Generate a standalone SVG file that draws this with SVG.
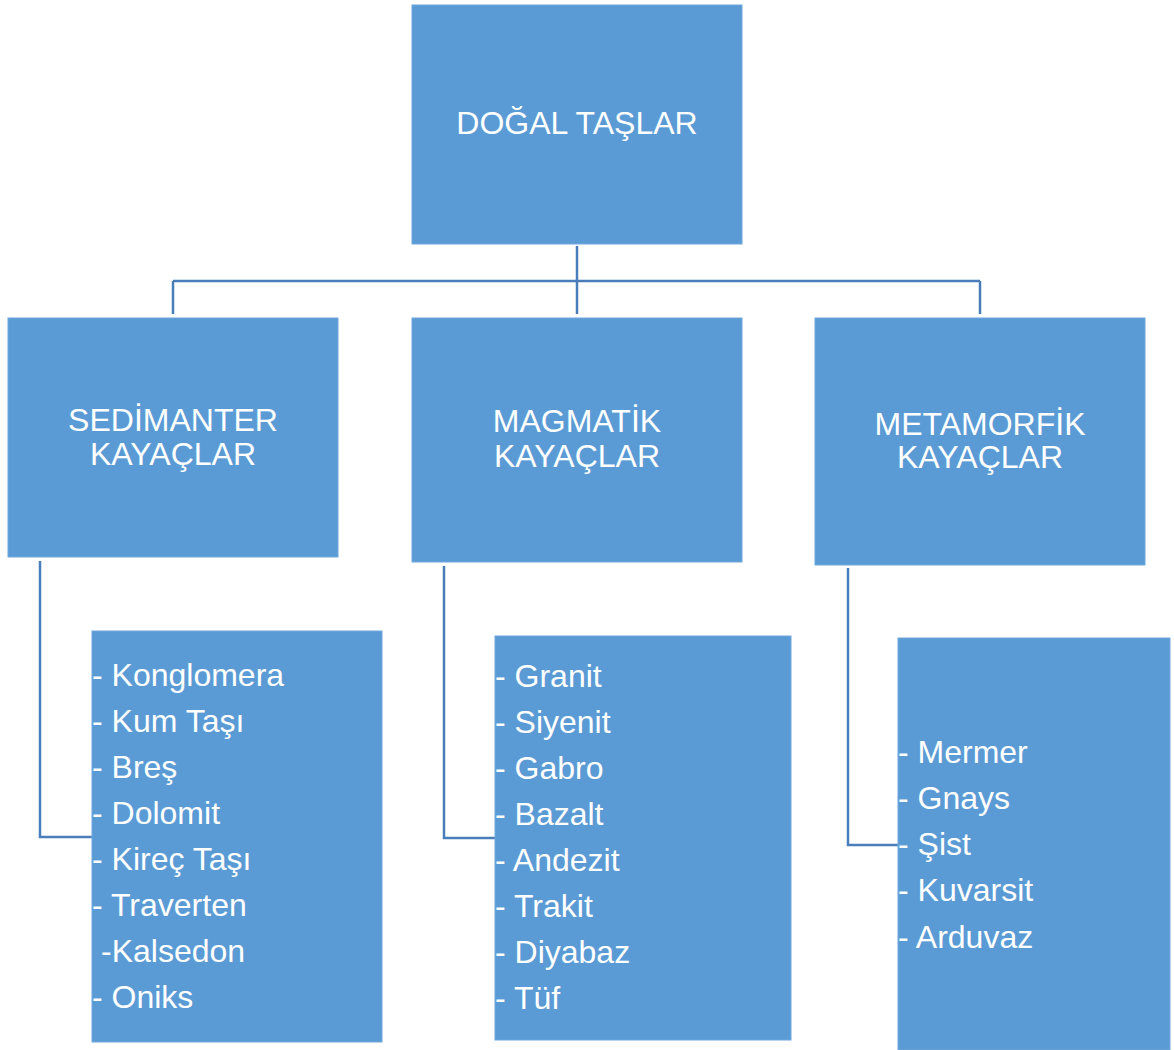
<svg xmlns="http://www.w3.org/2000/svg" width="1174" height="1050" viewBox="0 0 1174 1050">
<style>
.box{fill:#5B9BD5;stroke:#6FA8DC;stroke-width:1}
.t{font-family:"Liberation Sans",Arial,sans-serif;font-size:32px;fill:#FFFFFF}
.c{text-anchor:middle}
.ln{fill:none;stroke:#4A7EBB;stroke-width:2.5}
</style>
<rect width="1174" height="1050" fill="#FFFFFF"/>
<g id="connectors">
<path class="ln" d="M577 246 V314"/>
<path class="ln" d="M173 281 H980"/>
<path class="ln" d="M173 281 V314"/>
<path class="ln" d="M980 281 V314"/>
<path class="ln" d="M40 561 V837 H92"/>
<path class="ln" d="M444 566 V838 H495"/>
<path class="ln" d="M848 568 V845 H898"/>
</g>
<g id="root">
<rect class="box" x="412" y="5" width="330" height="239"/>
<text class="t c" x="577" y="134">DOĞAL TAŞLAR</text>
</g>
<g id="sedimanter">
<rect class="box" x="8" y="318" width="330" height="239"/>
<text class="t c" x="173" y="431">SEDİMANTER</text>
<text class="t c" x="173" y="465">KAYAÇLAR</text>
</g>
<g id="magmatik">
<rect class="box" x="412" y="318" width="330" height="244"/>
<text class="t c" x="577" y="432">MAGMATİK</text>
<text class="t c" x="577" y="467">KAYAÇLAR</text>
</g>
<g id="metamorfik">
<rect class="box" x="815" y="318" width="330" height="247"/>
<text class="t c" x="980" y="435">METAMORFİK</text>
<text class="t c" x="980" y="468">KAYAÇLAR</text>
</g>
<g id="sedimanter-list">
<rect class="box" x="92" y="631" width="290" height="411"/>
<text class="t" x="92" y="686">- Konglomera</text>
<text class="t" x="92" y="732">- Kum Taşı</text>
<text class="t" x="92" y="778">- Breş</text>
<text class="t" x="92" y="824">- Dolomit</text>
<text class="t" x="92" y="870">- Kireç Taşı</text>
<text class="t" x="92" y="916">- Traverten</text>
<text class="t" x="101" y="962">-Kalsedon</text>
<text class="t" x="92" y="1008">- Oniks</text>
</g>
<g id="magmatik-list">
<rect class="box" x="495" y="636" width="296" height="404"/>
<text class="t" x="495" y="687">- Granit</text>
<text class="t" x="495" y="733">- Siyenit</text>
<text class="t" x="495" y="779">- Gabro</text>
<text class="t" x="495" y="825">- Bazalt</text>
<text class="t" x="495" y="871">- Andezit</text>
<text class="t" x="495" y="917">- Trakit</text>
<text class="t" x="495" y="963">- Diyabaz</text>
<text class="t" x="495" y="1009">- Tüf</text>
</g>
<g id="metamorfik-list">
<rect class="box" x="898" y="638" width="272" height="412"/>
<text class="t" x="898" y="763">- Mermer</text>
<text class="t" x="898" y="809">- Gnays</text>
<text class="t" x="898" y="855">- Şist</text>
<text class="t" x="898" y="901">- Kuvarsit</text>
<text class="t" x="898" y="948">- Arduvaz</text>
</g>
</svg>
